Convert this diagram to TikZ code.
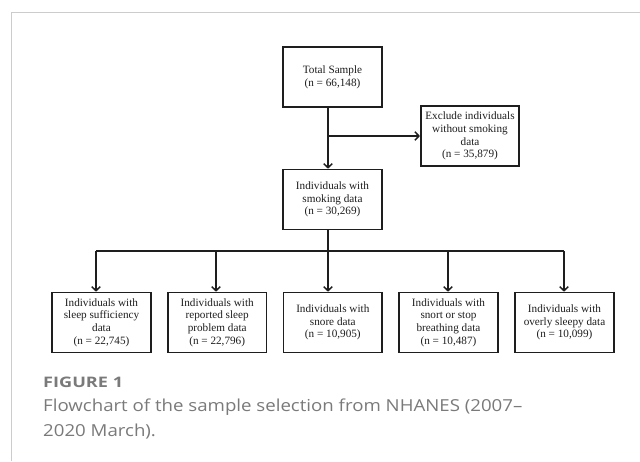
\documentclass[tikz,border=0pt]{standalone}
\usepackage{fontspec}
\usepackage{graphicx}
\setmainfont{Liberation Serif}
\newfontfamily\capfont{Open Sans}
\usetikzlibrary{arrows.meta}
\definecolor{frameg}{HTML}{CCCCCC}
\definecolor{capg}{HTML}{7A7A7A}
\definecolor{inkc}{HTML}{1E1E1E}
\tikzset{
  box/.style={draw=inkc, line width=1.6pt, minimum width=98.5pt, minimum height=60pt,
    inner sep=1pt, align=center, font=\fontsize{11.2}{12.7}\selectfont, text=inkc},
  link/.style={draw=inkc, line width=1.5pt},
  conn/.style={link, -{Straight Barb[length=4pt,width=8.5pt]}},
}
\begin{document}
\begin{tikzpicture}[x=1pt,y=-1pt]
\useasboundingbox (0,0) rectangle (640,461);
\fill[white] (0,0) rectangle (640,461);
% frame
\draw[frameg, line width=1pt] (11,461) -- (11,12) -- (640,12);

% nodes
\node[box] (total) at (332.5,77) {Total Sample\\(n = 66,148)};
\node[box] (exclude) at (470,136) {Exclude individuals\\without smoking\\data\\(n = 35,879)};
\node[box] (smoking) at (332.5,199.5) {Individuals with\\smoking data\\(n = 30,269)};
\node[box] (b1) at (101.5,322.5) {Individuals with\\sleep sufficiency\\data\\(n = 22,745)};
\node[box] (b2) at (217.2,322.5) {Individuals with\\reported sleep\\problem data\\(n = 22,796)};
\node[box] (b3) at (332.8,322.5) {Individuals with\\snore data\\(n = 10,905)};
\node[box] (b4) at (448.5,322.5) {Individuals with\\snort or stop\\breathing data\\(n = 10,487)};
\node[box] (b5) at (564.5,322.5) {Individuals with\\overly sleepy data\\(n = 10,099)};

% helper coordinates
\coordinate (trunk) at (328,0);
\coordinate (branch) at (328,136);
\coordinate (bus) at (0,251);
\coordinate (a1) at (96,0);
\coordinate (a2) at (216,0);
\coordinate (a4) at (448,0);
\coordinate (a5) at (564,0);

% connectors
\draw[conn] (total.south -| trunk) -- (smoking.north -| trunk);
\draw[conn] (branch) -- (exclude.west);
\draw[link] (smoking.south -| trunk) -- (bus -| trunk);
\draw[link] (bus -| a1) -- (bus -| a5);
\draw[conn] (bus -| a1) -- (b1.north -| a1);
\draw[conn] (bus -| a2) -- (b2.north -| a2);
\draw[conn] (bus -| trunk) -- (b3.north -| trunk);
\draw[conn] (bus -| a4) -- (b4.north -| a4);
\draw[conn] (bus -| a5) -- (b5.north -| a5);

% caption
\node[anchor=base west, inner sep=0pt, text=capg, font=\capfont\bfseries\fontsize{14.5}{16}\selectfont] (figlabel) at (43,387.7) {\scalebox{1.25}[1]{FIGURE 1}};
\node[anchor=base west, inner sep=0pt, text=capg, font=\capfont\fontsize{16.5}{25}\selectfont] (capline1) at (43,411.7) {\scalebox{1.13}[1]{Flowchart of the sample selection from NHANES (2007–}};
\node[anchor=base west, inner sep=0pt, text=capg, font=\capfont\fontsize{16.5}{25}\selectfont] (capline2) at (43,436.7) {\scalebox{1.13}[1]{2020 March).}};
\end{tikzpicture}
\end{document}
